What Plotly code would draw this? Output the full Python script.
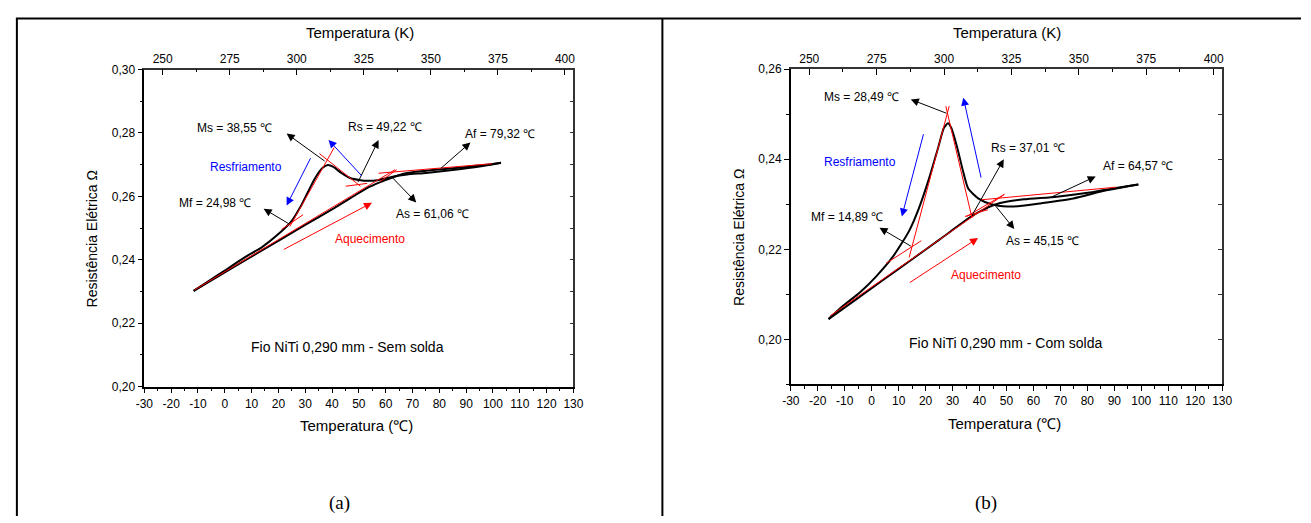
import plotly.graph_objects as go

W, H = 1311, 523

# ---------------- data: panel (a) Sem solda ----------------
heat_a_T = [-11.6, -5, 0, 7.7, 15, 22, 30, 40.8, 47, 53, 58, 62, 66, 70, 80, 90, 100, 103]
heat_a_R = [0.2302, 0.2335, 0.2360, 0.2399, 0.2435, 0.2470, 0.2510, 0.2563, 0.2595, 0.2626,
            0.2645, 0.2658, 0.2670, 0.2676, 0.2685, 0.2693, 0.2702, 0.2706]
cool_a_T = [103, 95, 85, 75, 68, 63, 60, 57, 53, 50.6, 47, 43.3, 40.5, 38.4, 36.5, 33.5, 28.6,
            24.9, 20, 13.9, 7.7, 0, -5, -11.6]
cool_a_R = [0.2706, 0.2694, 0.2683, 0.2674, 0.2669, 0.2663, 0.2657, 0.2651, 0.2649, 0.2651,
            0.2657, 0.2675, 0.2693, 0.2699, 0.2690, 0.2655, 0.2573, 0.2522, 0.2481, 0.2440,
            0.2409, 0.2366, 0.2338, 0.2302]
tang_a_T0 = [-11.25, 57.35, 40.8, 35.3, 45.1, 21.2, 58.0]
tang_a_R0 = [0.2305, 0.2673, 0.2754, 0.2735, 0.2632, 0.2496, 0.2647]
tang_a_T1 = [63.47, 99.6, 24.28, 50.6, 53.1, 29.2, 64.1]
tang_a_R1 = [0.2684, 0.2703, 0.2505, 0.2632, 0.2641, 0.2542, 0.2684]

# ---------------- data: panel (b) Com solda ----------------
heat_b_T = [-16, -5, 5, 15, 25, 37, 40.7, 45.6, 50.4, 56.5, 68.7, 80.9, 90.6, 98.9]
heat_b_R = [0.2045, 0.2092, 0.2135, 0.2178, 0.2221, 0.2273, 0.2286, 0.2299, 0.2306, 0.2311,
            0.2317, 0.2326, 0.2336, 0.2344]
cool_b_T = [98.9, 87, 74.8, 62.6, 55, 50.4, 44.4, 39.5, 35.8, 34.0, 31.6, 29.5, 28.3, 26.8,
            24.8, 21.2, 17.5, 13.9, 7.8, 1.7, -4.4, -10.5, -16]
cool_b_R = [0.2344, 0.2331, 0.2313, 0.2302, 0.2296, 0.2295, 0.2300, 0.2313, 0.2335, 0.2371,
            0.2429, 0.2470, 0.2480, 0.2470, 0.2429, 0.2356, 0.2291, 0.2241, 0.2183, 0.2140,
            0.2104, 0.2075, 0.2045]
tang_b_T0 = [-15.4, 13.9, 27.5, 5.35, 40.7, 35.2, 34.6]
tang_b_R0 = [0.2052, 0.2182, 0.2518, 0.2169, 0.2310, 0.2273, 0.2273]
tang_b_T1 = [49.2, 28.75, 37.2, 18.4, 90.6, 49.2, 43.1]
tang_b_R1 = [0.2322, 0.2518, 0.2270, 0.2219, 0.2338, 0.2322, 0.2288]

# ---------------- labels ----------------
labels_a = ["Ms = 38,55 ℃", "Rs = 49,22 ℃", "Af = 79,32 ℃", "As = 61,06 ℃", "Mf = 24,98 ℃"]
labels_a_T = [3.8, 59.8, 102.6, 77.6, -3.65]
labels_a_R = [0.2816, 0.2819, 0.2798, 0.2544, 0.2578]
arr_a_T0 = [37.8, 49.4, 80.0, 61.6, 24.6]
arr_a_R0 = [0.2708, 0.2640, 0.2684, 0.2667, 0.2510]
arr_a_T1 = [23.06, 57.35, 91.6, 71.4, 14.5]
arr_a_R1 = [0.2798, 0.2778, 0.2770, 0.2581, 0.2561]
dir_a = dict(cool_T=[32.25, 23.06], cool_R=[0.2725, 0.2571],
             back_T=[51.6, 38.7], back_R=[0.2660, 0.2778],
             heat_T=[21.45, 54.9], heat_R=[0.2430, 0.2580])
txt_a = dict(res=(7.74, 0.2692), aq=(54.3, 0.2464), fio=(45.6, 0.2125))

labels_b = ["Ms = 28,49 ℃", "Rs = 37,01 ℃", "Af = 64,57 ℃", "As = 45,15 ℃", "Mf = 14,89 ℃"]
labels_b_T = [-3.79, 58.0, 98.6, 63.2, -9.3]
labels_b_R = [0.2538, 0.2425, 0.2384, 0.2219, 0.2272]
arr_b_T0 = [28.3, 37.0, 66.3, 45.6, 15.1]
arr_b_R0 = [0.2501, 0.2273, 0.2315, 0.2299, 0.2205]
arr_b_T1 = [14.5, 49.0, 83.1, 52.9, 2.9]
arr_b_R1 = [0.2533, 0.2400, 0.2362, 0.2245, 0.2248]
dir_b = dict(cool_T=[19.35, 11.2], cool_R=[0.2459, 0.2273],
             back_T=[40.7, 34.0], back_R=[0.2356, 0.2537],
             heat_T=[13.6, 39.45], heat_R=[0.2124, 0.2225])
txt_b = dict(res=(-4.4, 0.2394), aq=(42.5, 0.2142), fio=(49.6, 0.1991))

xC_ticks = list(range(-30, 131, 10))
xC_minor = list(range(-25, 130, 10))
xK_ticks = [250, 275, 300, 325, 350, 375, 400]
xK_minor = [262.5, 287.5, 312.5, 337.5, 362.5, 387.5]
ya_ticks = [0.20, 0.22, 0.24, 0.26, 0.28, 0.30]
ya_minor = [0.21, 0.23, 0.25, 0.27, 0.29]
yb_ticks = [0.20, 0.22, 0.24, 0.26]
yb_minor = [0.19, 0.21, 0.23, 0.25]

FONT = "Liberation Sans, Arial, sans-serif"

fig = go.Figure()


def add_panel(xr, yr, heatT, heatR, coolT, coolR, t0, r0, t1, r1):
    fig.add_trace(go.Scatter(x=heatT, y=heatR, mode="lines", xaxis=xr, yaxis=yr,
                             line=dict(color="black", width=2, shape="spline", smoothing=0.6),
                             hoverinfo="skip"))
    fig.add_trace(go.Scatter(x=coolT, y=coolR, mode="lines", xaxis=xr, yaxis=yr,
                             line=dict(color="black", width=2, shape="spline", smoothing=0.6),
                             hoverinfo="skip"))
    for a, b, c, d in zip(t0, r0, t1, r1):
        fig.add_trace(go.Scatter(x=[a, c], y=[b, d], mode="lines", xaxis=xr, yaxis=yr,
                                 line=dict(color="red", width=1), hoverinfo="skip"))


add_panel("x", "y", heat_a_T, heat_a_R, cool_a_T, cool_a_R, tang_a_T0, tang_a_R0, tang_a_T1, tang_a_R1)
add_panel("x3", "y3", heat_b_T, heat_b_R, cool_b_T, cool_b_R, tang_b_T0, tang_b_R0, tang_b_T1, tang_b_R1)

for xr, yr in [("x2", "y"), ("x", "y2"), ("x4", "y3"), ("x3", "y4")]:
    fig.add_trace(go.Scatter(x=[], y=[], xaxis=xr, yaxis=yr, hoverinfo="skip"))

ann = []


def panel_annotations(xr, yr, labels, lT, lR, a0T, a0R, a1T, a1R, dirs, txt, fio_text):
    for s, t, r in zip(labels, lT, lR):
        ann.append(dict(x=t, y=r, xref=xr, yref=yr, text=s, showarrow=False,
                        font=dict(family=FONT, size=12, color="black")))
    for a, b, c, d in zip(a0T, a0R, a1T, a1R):
        ann.append(dict(x=c, y=d, ax=a, ay=b, xref=xr, yref=yr, axref=xr, ayref=yr, text="",
                        showarrow=True, arrowhead=2, arrowsize=1.6, arrowwidth=1,
                        arrowcolor="black"))
    for key, col in [("cool", "blue"), ("back", "blue"), ("heat", "red")]:
        T = dirs[key + "_T"]
        R = dirs[key + "_R"]
        ann.append(dict(x=T[1], y=R[1], ax=T[0], ay=R[0], xref=xr, yref=yr, axref=xr, ayref=yr,
                        text="", showarrow=True, arrowhead=2, arrowsize=1.6, arrowwidth=1,
                        arrowcolor=col))
    ann.append(dict(x=txt["res"][0], y=txt["res"][1], xref=xr, yref=yr, text="Resfriamento",
                    showarrow=False, font=dict(family=FONT, size=12, color="blue")))
    ann.append(dict(x=txt["aq"][0], y=txt["aq"][1], xref=xr, yref=yr, text="Aquecimento",
                    showarrow=False, font=dict(family=FONT, size=12, color="red")))
    ann.append(dict(x=txt["fio"][0], y=txt["fio"][1], xref=xr, yref=yr, text=fio_text,
                    showarrow=False, font=dict(family=FONT, size=14, color="black")))


panel_annotations("x", "y", labels_a, labels_a_T, labels_a_R, arr_a_T0, arr_a_R0, arr_a_T1,
                  arr_a_R1, dir_a, txt_a, "Fio NiTi 0,290 mm - Sem solda")
panel_annotations("x3", "y3", labels_b, labels_b_T, labels_b_R, arr_b_T0, arr_b_R0, arr_b_T1,
                  arr_b_R1, dir_b, txt_b, "Fio NiTi 0,290 mm - Com solda")


def px(xp):
    return xp / W


def py(yp):
    return 1 - yp / H


titles = [
    ("Temperatura (K)", 356, 26, 0), ("Temperatura (℃)", 353, 430, 0),
    ("Resistência Elétrica Ω", 84, 238, -90),
    ("Temperatura (K)", 1013, 26, 0), ("Temperatura (℃)", 1010, 428, 0),
    ("Resistência Elétrica Ω", 740, 237, -90),
]
for s, xx, yy, ang in titles:
    ann.append(dict(x=px(xx), y=py(yy), xref="paper", yref="paper", text=s, showarrow=False,
                    textangle=ang, xanchor="center", yanchor="middle",
                    font=dict(family=FONT, size=15 if ang == 0 else 14, color="black")))
for s, xx in [("(a)", 335), ("(b)", 991)]:
    ann.append(dict(x=px(xx), y=py(510), xref="paper", yref="paper", text=s, showarrow=False,
                    xanchor="center", yanchor="middle",
                    font=dict(family="Liberation Serif, Times New Roman, serif", size=19,
                              color="black")))

tickfont = dict(family=FONT, size=12, color="black")


def xC(domain, anchor):
    return dict(domain=domain, anchor=anchor, range=[-30, 130], showgrid=False, zeroline=False,
                showline=True, linecolor="black", linewidth=1.5, ticks="outside", ticklen=5,
                tickwidth=1, tickcolor="black", tickmode="array", tickvals=xC_ticks,
                ticktext=[str(v) for v in xC_ticks], tickfont=tickfont,
                minor=dict(tickvals=xC_minor, ticks="outside", ticklen=3, tickcolor="black",
                           showgrid=False))


def xK(over, anchor):
    return dict(overlaying=over, anchor=anchor, side="top", range=[243.15, 403.15],
                showgrid=False, zeroline=False, showline=True, linecolor="#333333",
                linewidth=1.5, ticks="inside", ticklen=6, tickwidth=1, tickcolor="black",
                tickmode="array", tickvals=xK_ticks, ticktext=[str(v) for v in xK_ticks],
                tickfont=tickfont,
                minor=dict(tickvals=xK_minor, ticks="inside", ticklen=3, tickcolor="black",
                           showgrid=False))


def yL(domain, rng, ticks, minor, anchor):
    return dict(domain=domain, anchor=anchor, range=rng, showgrid=False, zeroline=False,
                showline=True, linecolor="black", linewidth=1.5, ticks="outside", ticklen=5,
                tickwidth=1, tickcolor="black", tickmode="array", tickvals=ticks,
                ticktext=[("%.2f" % v).replace(".", ",") for v in ticks], tickfont=tickfont,
                minor=dict(tickvals=minor, ticks="outside", ticklen=3, tickcolor="black",
                           showgrid=False))


def yR(over, anchor, rng, vals):
    return dict(overlaying=over, anchor=anchor, side="right", range=rng, showgrid=False,
                zeroline=False, showline=True, linecolor="#333333", linewidth=1.5,
                ticks="inside", ticklen=4, tickwidth=1, tickcolor="#333333", tickmode="array",
                tickvals=vals, showticklabels=False)


dom_xa = [137.3 / W, 572.7 / W]
dom_xb = [793.3 / W, 1231.0 / W]
dom_ya = [py(390.0), py(64.3)]
dom_yb = [py(387.7), py(64.0)]

ya_all = [0.21, 0.22, 0.23, 0.24, 0.25, 0.26, 0.27, 0.28, 0.29]
yb_all = [0.20, 0.21, 0.22, 0.23, 0.24, 0.25]

shapes = [
    dict(type="line", xref="paper", yref="paper", x0=px(7), x1=1, y0=py(11.7), y1=py(11.7),
         line=dict(color="black", width=2)),
    dict(type="line", xref="paper", yref="paper", x0=px(8), x1=px(8), y0=0, y1=py(11.7),
         line=dict(color="black", width=2)),
    dict(type="line", xref="paper", yref="paper", x0=px(663), x1=px(663), y0=0, y1=py(11.7),
         line=dict(color="black", width=2)),
]

fig.update_layout(
    width=W, height=H, margin=dict(l=0, r=0, t=0, b=0), autosize=False,
    paper_bgcolor="white", plot_bgcolor="white", showlegend=False,
    xaxis=xC(dom_xa, "y"), xaxis2=xK("x", "y"),
    yaxis=yL(dom_ya, [0.20, 0.30], ya_ticks, ya_minor, "x"),
    yaxis2=yR("y", "x", [0.20, 0.30], ya_all),
    xaxis3=xC(dom_xb, "y3"), xaxis4=xK("x3", "y3"),
    yaxis3=yL(dom_yb, [0.19, 0.26], yb_ticks, yb_minor, "x3"),
    yaxis4=yR("y3", "x3", [0.19, 0.26], yb_all),
    annotations=ann, shapes=shapes,
)

fig.write_html("out.html", config={"displayModeBar": False},
               post_script="document.body.style.margin='0';document.body.style.overflow='hidden';")
